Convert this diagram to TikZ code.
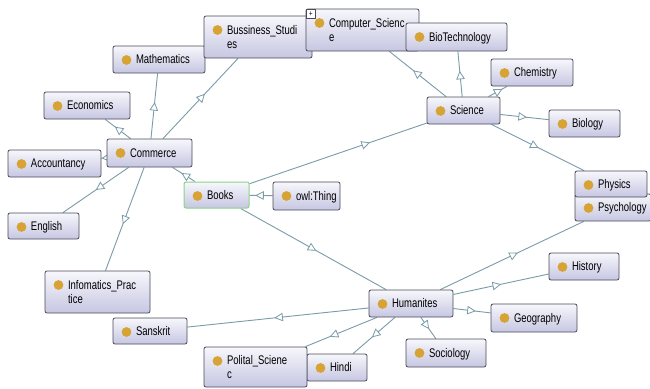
\documentclass[tikz,border=0pt]{standalone}
\usepackage{fontspec}
\newfontfamily\clsfont{Liberation Sans}[FakeStretch=0.76]
\usetikzlibrary{arrows.meta, decorations.markings, backgrounds}

\definecolor{boxline}{HTML}{4A4A58}
\definecolor{boxtop}{HTML}{F7F7FC}
\definecolor{boxbot}{HTML}{C6C6E2}
\definecolor{dotc}{HTML}{D6A334}
\definecolor{linkc}{HTML}{7B9BA8}
\definecolor{booksline}{HTML}{8BD28B}

% indent past the class dot, with a fixed strut
\newcommand\clsind{\hspace*{23pt}\rule[-2.7pt]{0pt}{14pt}}

\begin{document}
\begin{tikzpicture}[
  x=1pt, y=-1pt,
  cls/.style={draw=boxline, line width=0.8pt, rounded corners=2pt,
    top color=boxtop, bottom color=boxbot, text width=#1, align=left,
    inner xsep=0pt, inner ysep=1pt, minimum height=27pt,
    font=\clsfont\fontsize{12.5}{14}\selectfont,
    path picture={\fill[dotc] ([xshift=13.5pt,yshift=-14pt]path picture bounding box.north west) circle (4.9pt);}},
  isa/.style={draw=linkc, line width=0.9pt, postaction={decorate},
    decoration={markings, mark=at position #1 with {\arrow{Triangle[length=8.5pt, width=8.5pt, fill=white, line width=0.8pt]}}}},
]
\useasboundingbox (0,0) rectangle (650,388);

% ---------- Commerce side ----------
\node[cls=92pt] (math) at (159,59.5) {\clsind Mathematics};
\node[cls=86pt] (econ) at (87,105.5) {\clsind Economics};
\node[cls=108pt, minimum height=42pt] (bus) at (258,37) {\clsind Bussiness\_Studi\\\clsind es};
\node[cls=93pt] (acc) at (54.5,163.5) {\clsind Accountancy};
\node[cls=71pt, minimum height=26pt] (eng) at (43.5,226) {\clsind English};
\node[cls=105pt, minimum height=42pt] (info) at (97.5,292) {\clsind Infomatics\_Prac\\\clsind tice};
\node[cls=85pt, minimum height=28pt] (com) at (149.5,153) {\clsind Commerce};

% ---------- Science side ----------
\node[cls=113pt, minimum height=42pt] (cs) at (362.5,30) {\clsind Computer\_Scienc\\\clsind e};
\node[draw=boxline, fill=white, minimum size=9pt, inner sep=0pt, font=\clsfont\fontsize{8}{8}\selectfont] (csplus) at (311,14) {+};
\node[cls=101pt, minimum height=28pt] (bio) at (456.5,37) {\clsind BioTechnology};
\node[cls=82pt] (chem) at (532,72.5) {\clsind Chemistry};
\node[cls=73pt] (sci) at (463.5,110.5) {\clsind Science};
\node[cls=71pt] (biol) at (584.5,123.5) {\clsind Biology};
\node[cls=76pt] (psych) at (613,207.5) {\clsind Psychology};
\node[cls=72pt, minimum height=26pt] (phys) at (611,184) {\clsind Physics};

% ---------- Humanites side ----------
\node[cls=70pt] (hist) at (584,266.5) {\clsind History};
\node[cls=84pt] (hum) at (411,303.5) {\clsind Humanites};
\node[cls=86pt, minimum height=28pt] (geo) at (534,318) {\clsind Geography};
\node[cls=80pt, minimum height=28pt] (soc) at (446,353) {\clsind Sociology};
\node[cls=60pt] (hindi) at (337,367.5) {\clsind Hindi};
\node[cls=103pt, minimum height=40pt] (pol) at (255.5,367) {\clsind Polital\_Sciene\\\clsind c};
\node[cls=74pt, minimum height=26pt] (sans) at (150,331) {\clsind Sanskrit};

% ---------- root ----------
\node[cls=65pt, minimum height=26pt, draw=booksline, line width=1pt] (books) at (216.5,195) {\clsind Books};
\node[cls=67pt, minimum height=28pt] (thing) at (306.5,196) {\clsind owl:Thing};

% ---------- subclass links ----------
\begin{scope}[on background layer]
  \fill[white] (0,0) rectangle (650,388);
  \draw[isa=0.75] (thing) -- (books);
  \draw[isa=0.6]  (books) -- (com);
  \draw[isa=0.68] (books) -- (sci);
  \draw[isa=0.52] (books) -- (hum);
  \draw[isa=0.56] (com) -- (math);
  \draw[isa=0.56] (com) -- (bus);
  \draw[isa=0.62] (com) -- (econ);
  \draw[isa=0.99] (com) -- (acc);
  \draw[isa=0.5]  (com) -- (eng);
  \draw[isa=0.55] (com) -- (info);
  \draw[isa=0.58] (sci) -- (cs);
  \draw[isa=0.57] (sci) -- (bio);
  \draw[isa=0.75] (sci) -- (chem);
  \draw[isa=0.55] (sci) -- (biol);
  \draw[isa=0.51] (sci) -- (phys);
  \draw[isa=0.54] (hum) -- (psych);
  \draw[isa=0.5]  (hum) -- (hist);
  \draw[isa=0.6]  (hum) -- (geo);
  \draw[isa=0.55] (hum) -- (soc);
  \draw[isa=0.52] (hum) -- (sans);
  \draw[isa=0.66] (hum) -- (pol);
  \draw[isa=0.55] (hum) -- (hindi);
\end{scope}
\end{tikzpicture}
\end{document}
